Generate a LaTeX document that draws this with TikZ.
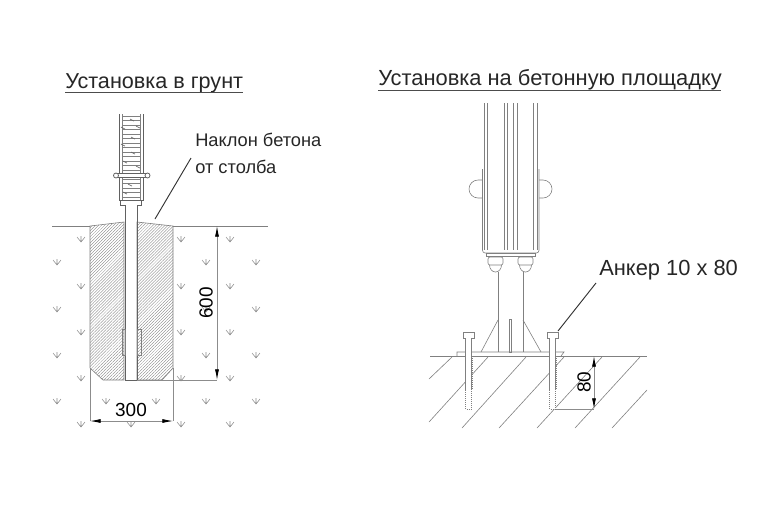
\documentclass[tikz,border=0pt]{standalone}
\usepackage{fontspec}
\setmainfont{Liberation Sans}
\usetikzlibrary{arrows.meta, patterns.meta}
\tikzset{
  thinline/.style={draw=black!50,line width=.45pt},
  darkline/.style={draw=black!62,line width=.6pt},
  dimline/.style={draw=black!45,line width=.6pt},
  dimarrow/.style={dimline,{Latex[length=8pt,width=3pt,black]}-{Latex[length=8pt,width=3pt,black]}},
  hatchfill/.style={pattern={Lines[angle=45,distance=1.6pt,line width=.25pt]},pattern color=black!50},
  titletext/.style={font=\fontsize{16.4}{16.4}\selectfont,inner sep=0pt,anchor=base west,text=black!85},
  labeltext/.style={font=\fontsize{13.7}{13.7}\selectfont,inner sep=0pt,anchor=base west,text=black!85},
  dimtext/.style={font=\fontsize{14.2}{14.2}\selectfont,inner sep=0pt},
  soilmark/.pic={\draw[black!45,line width=.4pt] (-4,-2)--(0,3)--(4,-2) (0,-3)--(0,3);}
}
\begin{document}
\begin{tikzpicture}[x=.75pt,y=-.75pt]
  \useasboundingbox (0,0) rectangle (762,508);
  % titles
  \node[titletext,font=\fontsize{16.2}{16.2}\selectfont] (titleground) at (65,88) {Установка в грунт};
  \node[titletext] (titleslab) at (378,85) {Установка на бетонную площадку};
  \draw[black!70,line width=.7pt] (65,92.5)--(243,92.5) (378,90.5)--(721,90.5);
  % soil marks
  \foreach \y in {239,286,332,378,424}
    \foreach \x in {81,181,230}
      \pic at (\x,\y) {soilmark};
  \foreach \y in {262,309,355,401}
    \foreach \x in {57,206,256}
      \pic at (\x,\y) {soilmark};
  \pic at (106,401) {soilmark};
  \pic at (156,401) {soilmark};
  \pic at (131,424) {soilmark};
  % concrete
  \draw[thinline,hatchfill] (90,226)--(124,222)--(124,380)--(103,380)--(90,368)--cycle;
  \draw[thinline,hatchfill] (173,226)--(137,222)--(137,380)--(162,380)--(173,368)--cycle;
  \draw[thinline] (52,226)--(90,226) (173,226)--(268,226);
  % post in the ground
  \draw[darkline] (125,205)--(125,380)--(137,380)--(137,205);
  \draw[thinline] (122,329) rectangle (125,355) (137,329) rectangle (141,355);
  \draw[darkline] (120.5,200)--(120.5,205)--(125,205) (137,205)--(141,205)--(141,200);
  % panel
  \draw[darkline] (119,114)--(119,200)--(143,200)--(143,114);
  \draw[thinline] (122,114)--(122,200) (140.5,114)--(140.5,200);
  \foreach \y in {116,120.5,...,198}
    \draw[black!50,line width=.4pt] (122,\y)--(140.5,\y);
  \foreach \x/\y in {132/120,123/128,138/127,133/138,123/145,133/153,125/162,138/167,130/185,125/193}
    \draw[black!60,line width=.5pt] (\x-2,\y-1)--(\x+2,\y+1);
  \draw[darkline,fill=white] (117,173) rectangle (146,177.5);
  \draw[darkline,fill=white] (116,175.5) circle (2.5) (147.5,175.5) circle (2.5);
  % dimensions left
  \coordinate (dimtop) at (217,226);
  \coordinate (dimbot) at (217,380);
  \coordinate (widthl) at (90,421);
  \coordinate (widthr) at (173,421);
  \draw[dimline] (137,380)--(dimbot) (90,368)--(widthl) (173,368)--(widthr);
  \draw[dimarrow] (dimtop)--(dimbot);
  \draw[dimarrow] (widthl)--(widthr);
  \node[dimtext,rotate=90] (sixhundred) at (206,303) {600};
  \node[dimtext] (threehundred) at (131,410) {300};
  % slope label
  \node[labeltext] (slopeone) at (195,146) {Наклон бетона};
  \node[labeltext] (slopetwo) at (195,173) {от столба};
  \coordinate (slopetip) at (155,219);
  \coordinate (slopeend) at (191,158);
  \draw[black!80,line width=.7pt] (slopetip)--(slopeend);
  % post on slab
  \foreach \x in {484.5,487.5,504,507,513.5,517,533.5,537}
    \draw[thinline] (\x,103)--(\x,250);
  \draw[thinline,rounded corners=2pt] (482.5,169)--(482.5,253)--(539,253)--(539,169);
  \draw[thinline] (486,256) rectangle (535,253);
  \draw[thinline] (482.5,180)--(478,180) arc[start angle=-90,end angle=-270,radius=9]--(482.5,198);
  \draw[thinline] (539,180)--(543,180) arc[start angle=-90,end angle=90,radius=9]--(539,198);
  % nuts
  \foreach \x in {495.5,525.5}{
    \draw[thinline,rounded corners=1.5pt] (\x-7.5,257) rectangle (\x+7.5,265);
    \draw[thinline] (\x-6,265) arc[start angle=180,end angle=0,x radius=6,y radius=7];
  }
  % stand and plate
  \draw[thinline] (498,272)--(498,352) (523,272)--(523,352);
  \draw[thinline] (498,320)--(481,352) (523,320)--(541,352);
  \draw[thinline] (509,319) rectangle (511.5,352);
  \draw[thinline] (457,356)--(457,352)--(564,352)--(561,356);
  \draw[thinline] (430,356)--(647,356);
  % hatch of the slab
  \foreach \xa/\ya/\xb/\yb in {429/379/452/357,429/422/488/357,462/428/526/357,499/428/564/357,537/428/602/357,575/428/640/357,612/428/647/390}
    \draw[black!50,line width=.45pt] (\xa,\ya)--(\xb,\yb);
  % anchors
  \foreach \x in {468.5,552.5}{
    \draw[thinline,fill=white] (\x-5.5,332.5) rectangle (\x+5.5,338);
    \draw[thinline,fill=white] (\x-3,338)--(\x-3,390)--(\x+3,390)--(\x+3,338);
    \draw[black!50,line width=.5pt,densely dotted,fill=white] (\x-3,390)--(\x-3,409)--(\x+3,409)--(\x+3,390);
    \draw[black!50,line width=.5pt,densely dotted] (\x+3.5,356)--(\x+3.5,390);
  }
  % dimension right
  \coordinate (depthtop) at (594,356);
  \coordinate (depthbot) at (594,409);
  \draw[dimline] (555.5,409)--(depthbot);
  \draw[dimarrow] (depthtop)--(depthbot);
  \node[dimtext,rotate=90] (eighty) at (584,382) {80};
  % anchor label
  \node[titletext] (anchorlabel) at (599,275.5) {Анкер 10 х 80};
  \coordinate (anchortip) at (558,331);
  \coordinate (anchorend) at (596,283);
  \draw[black!80,line width=.7pt] (anchortip)--(anchorend);
\end{tikzpicture}
\end{document}
